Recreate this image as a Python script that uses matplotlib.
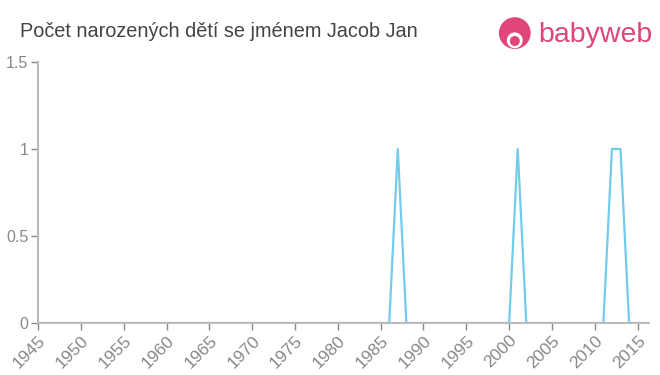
import matplotlib
matplotlib.use('Agg')
import matplotlib.pyplot as plt
from matplotlib.patches import Circle

plt.rcParams['font.family'] = ['Liberation Sans', 'DejaVu Sans']

# data: births per year
years = list(range(1945, 2017))
peak_years = {1987: 1, 2001: 1, 2012: 1, 2013: 1}
counts = [peak_years.get(y, 0) for y in years]

x_ticks = list(range(1945, 2020, 5))
y_ticks = [0, 0.5, 1, 1.5]
y_labels = ['0', '0.5', '1', '1.5']

title = 'Počet narozených dětí se jménem Jacob Jan'

fig = plt.figure(figsize=(6.6, 3.75), dpi=100)
ax = fig.add_axes([0.0576, 0.1387, 0.9254, 0.696])

ax.plot(years, counts, color='#72cbea', linewidth=1.6)

ax.set_xlim(1945, 2016.3)
ax.set_ylim(0, 1.5)
ax.set_xticks(x_ticks)
ax.set_xticklabels([str(t) for t in x_ticks], rotation=45, ha='right',
                   rotation_mode='anchor')
ax.set_yticks(y_ticks)
ax.set_yticklabels(y_labels)
ax.tick_params(colors='#888888', labelsize=11.5, length=5, width=1)
ax.tick_params(axis='x', pad=2, labelsize=12.5)
ax.tick_params(axis='y', pad=2)

for side in ['top', 'right']:
    ax.spines[side].set_visible(False)
for side in ['left', 'bottom']:
    ax.spines[side].set_color('#bbbbbb')
    ax.spines[side].set_linewidth(1.5)

fig.text(0.03, 0.917, title, fontsize=14.3, color='#444444', va='center')

# babyweb logo
pink = '#e0457b'
logo = fig.add_axes([0.755, 0.86, 0.05, 0.1])
logo.set_xlim(0, 1)
logo.set_ylim(0, 1)
logo.set_aspect('equal')
logo.axis('off')
logo.add_patch(Circle((0.5, 0.52), 0.46, color=pink))
logo.add_patch(Circle((0.5, 0.3), 0.22, color='white'))
logo.add_patch(Circle((0.5, 0.28), 0.13, color=pink))
fig.text(0.816, 0.908, 'babyweb', fontsize=20.5, color=pink, va='center')

fig.savefig('out.png', dpi=100)
